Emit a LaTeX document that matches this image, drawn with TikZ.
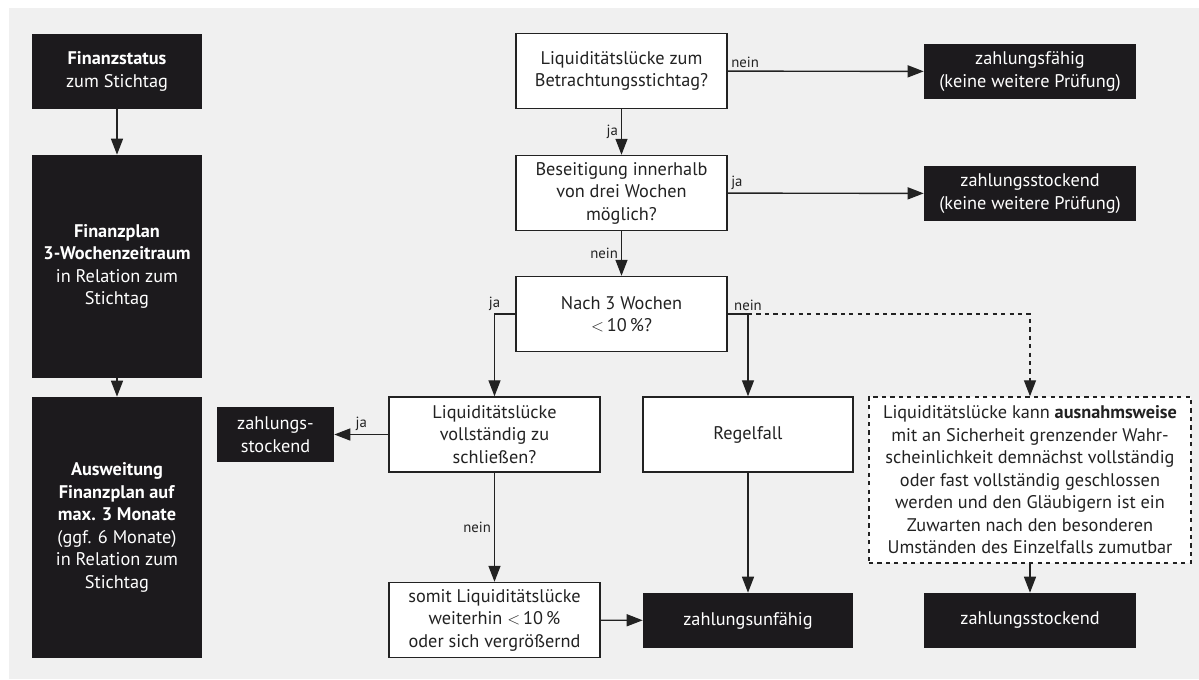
\documentclass[tikz,border=0pt]{standalone}
\usepackage{fontspec}
\setmainfont{PT Sans}
\usepackage{xcolor}
\usetikzlibrary{arrows.meta}

\definecolor{boxblack}{HTML}{1C1A1D}
\definecolor{bggray}{HTML}{F0F0F0}
\definecolor{inkgray}{HTML}{222222}

\begin{document}
\begin{tikzpicture}[x=0.025cm, y=-0.025cm,
    font=\fontsize{13}{16}\selectfont, text=inkgray,
    qbox/.style={draw=inkgray, line width=1pt, fill=white, align=center,
        minimum width=5.275cm, minimum height=1.875cm, inner sep=2pt},
    endbox/.style={fill=boxblack, text=white, align=center,
        minimum width=5.3cm, minimum height=1.375cm, inner sep=2pt},
    sidebox/.style={fill=boxblack, text=white, align=center,
        minimum width=4.25cm, inner sep=2pt},
    lbl/.style={font=\fontsize{10.5}{12}\selectfont, inner sep=2pt},
    arr/.style={draw=inkgray, line width=1pt, -{Triangle[length=0.4cm,width=0.3cm]}}]

    % Background
    \useasboundingbox (0,0) rectangle (1199,679);
    \fill[bggray] (9,8) rectangle (1199,679);

    % Left column
    \node[sidebox, minimum height=1.875cm] (status) at (117,71.5)
        {\textbf{Finanzstatus}\\zum Stichtag};
    \node[sidebox, minimum height=5.575cm] (plan) at (117,266.5)
        {\textbf{Finanzplan}\\\textbf{3-Wochenzeitraum}\\in Relation zum\\Stichtag};
    \node[sidebox, minimum height=6.525cm] (ausweit) at (117,527.5)
        {\textbf{Ausweitung}\\\textbf{Finanzplan auf}\\\textbf{max. 3 Monate}\\(ggf. 6 Monate)\\in Relation zum\\Stichtag};

    % Questions
    \node[qbox] (luecke) at (621.5,71) {Liquiditätslücke zum\\Betrachtungsstichtag?};
    \node[qbox] (beseit) at (621.5,193) {Beseitigung innerhalb\\von drei Wochen\\möglich?};
    \node[qbox] (dreiw) at (621.5,314) {Nach 3 Wochen\\$<$\,10\,\%?};
    \node[qbox] (schliess) at (494.5,434.5) {Liquiditätslücke\\vollständig zu\\schließen?};
    \node[qbox, minimum width=5.25cm] (regel) at (748,434.5) {Regelfall};
    \node[qbox] (somit) at (494.5,620) {somit Liquiditätslücke\\weiterhin $<$\,10\,\%\\oder sich vergrößernd};
    \node[qbox, dashed, minimum width=8.05cm, minimum height=4.15cm] (ausnahme) at (1030,480)
        {Liquiditätslücke kann \textbf{ausnahmsweise}\\mit an Sicherheit grenzender Wahr-\\scheinlichkeit demnächst vollständig\\oder fast vollständig geschlossen\\werden und den Gläubigern ist ein\\Zuwarten nach den besonderen\\Umständen des Einzelfalls zumutbar};

    % Results
    \node[endbox] (zfaehig) at (1030,71.5) {zahlungsfähig\\(keine weitere Prüfung)};
    \node[endbox] (zstock) at (1030,193.5) {zahlungsstockend\\(keine weitere Prüfung)};
    \node[endbox, minimum width=2.925cm] (zstockl) at (275.5,434.5) {zahlungs-\\stockend};
    \node[endbox, minimum width=5.25cm] (zunf) at (748,620.5) {zahlungsunfähig};
    \node[endbox] (zstockr) at (1030,620.5) {zahlungsstockend};

    % Arrows
    \draw[arr] (status) -- (plan);
    \draw[arr] (plan) -- (ausweit);
    \draw[arr] (luecke) -- node[lbl, above right, pos=0] {nein} (zfaehig);
    \draw[arr] (luecke) -- node[lbl, left] {ja} (beseit);
    \draw[arr] (beseit) -- node[lbl, above right, pos=0] {ja} (zstock);
    \draw[arr] (beseit) -- node[lbl, left] {nein} (dreiw);
    \draw[arr] (dreiw.west) -| node[lbl, above, pos=0.5] {ja} (schliess.north);
    \coordinate (abzweig) at (dreiw.east -| regel.north);
    \draw[arr] (dreiw.east) -- node[lbl, above, pos=1] {nein} (abzweig) -- (regel.north);
    \draw[arr, dashed] (abzweig) -| (ausnahme.north);
    \draw[arr] (schliess) -- node[lbl, above] {ja} (zstockl);
    \draw[arr] (schliess) -- node[lbl, left] {nein} (somit);
    \draw[arr] (somit) -- (zunf);
    \draw[arr] (regel) -- (zunf);
    \draw[arr] (ausnahme) -- (zstockr);

\end{tikzpicture}
\end{document}
